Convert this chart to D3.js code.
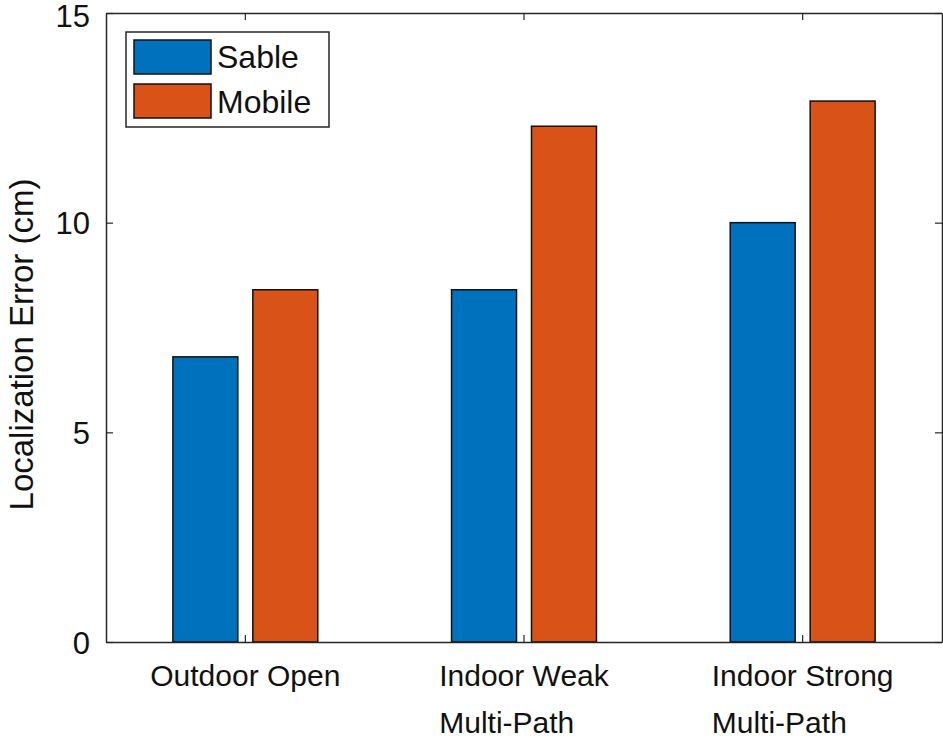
<!DOCTYPE html>
<html>
<head>
<meta charset="utf-8">
<script src="https://cdn.jsdelivr.net/npm/d3@7"></script>
<style>
  html, body { margin: 0; padding: 0; background: #fff; }
  svg { display: block; font-family: "Liberation Sans", Arial, sans-serif; }
</style>
</head>
<body>
<svg id="chart" width="943" height="738"></svg>
<script>
const categories = ["Outdoor Open", "Indoor Weak\nMulti-Path", "Indoor Strong\nMulti-Path"];
const seriesNames = ["Sable", "Mobile"];
const sableValues = [6.8, 8.4, 10.0];
const mobileValues = [8.4, 12.3, 12.9];
const yTicks = [0, 5, 10, 15];
const colors = ["#0072BD", "#D95319"];

const seriesValues = [sableValues, mobileValues];
const W = 943, H = 738;
const margin = {left: 106, top: 13, right: 1, bottom: 96};
const svg = d3.select("#chart");
const axisColor = "#262626";

const x0 = d3.scaleBand().domain(categories).range([margin.left, W - margin.right]).padding(0);
const groupW = x0.bandwidth() * 0.52;
const x1 = d3.scaleBand().domain(seriesNames).range([0, groupW]).paddingInner(0.1875).paddingOuter(0);
const y = d3.scaleLinear().domain([0, 15]).range([H - margin.bottom, margin.top]);

// bars
const data = [];
categories.forEach((c, i) => seriesNames.forEach((s, j) => data.push({c, s, j, v: seriesValues[j][i]})));
svg.append("g").selectAll("rect").data(data).join("rect")
  .attr("x", d => x0(d.c) + (x0.bandwidth() - groupW) / 2 + x1(d.s))
  .attr("y", d => y(d.v))
  .attr("width", x1.bandwidth())
  .attr("height", d => y(0) - y(d.v))
  .attr("fill", d => colors[d.j])
  .attr("stroke", "#111")
  .attr("stroke-width", 1.5);

// axes
const tickLen = 7;
const axLeft = d3.axisLeft(y).tickValues(yTicks).tickSizeInner(-tickLen).tickSizeOuter(0).tickFormat(d3.format("d")).tickPadding(16);
const axRight = d3.axisRight(y).tickValues(yTicks).tickSizeInner(-tickLen).tickSizeOuter(0).tickFormat("");
const axBottom = d3.axisBottom(x0).tickSizeInner(-tickLen).tickSizeOuter(0).tickFormat("");
const axTop = d3.axisTop(x0).tickSizeInner(-tickLen).tickSizeOuter(0).tickFormat("");

const gL = svg.append("g").attr("transform", `translate(${margin.left},0)`).call(axLeft);
const gR = svg.append("g").attr("transform", `translate(${W - margin.right},0)`).call(axRight);
const gB = svg.append("g").attr("transform", `translate(0,${H - margin.bottom})`).call(axBottom);
const gT = svg.append("g").attr("transform", `translate(0,${margin.top})`).call(axTop);
[gL, gR, gB, gT].forEach(g => {
  g.selectAll(".domain").attr("stroke", axisColor).attr("stroke-width", 1.5);
  g.selectAll(".tick line").attr("stroke", axisColor).attr("stroke-width", 1.2);
});
gL.selectAll(".tick text").attr("font-size", 31).attr("fill", "#111")
  .attr("font-family", "Liberation Sans, Arial, sans-serif")
  .attr("dy", "0.36em")
  .filter(d => d === 15).attr("dy", "0.42em");

// x labels (multi-line, lines left-aligned, block centered on category)
categories.forEach(c => {
  const lines = c.split("\n");
  const t = svg.append("text")
    .attr("font-size", 30)
    .attr("fill", "#111");
  const spans = lines.map((ln, k) => t.append("tspan").attr("y", 686 + k * 47).text(ln));
  const maxW = d3.max(spans, s => s.node().getComputedTextLength());
  const cx = x0(c) + x0.bandwidth() / 2;
  spans.forEach(s => s.attr("x", cx - maxW / 2));
});

// y label
svg.append("text")
  .attr("transform", `translate(33,${(margin.top + H - margin.bottom) / 2 + 17}) rotate(-90)`)
  .attr("text-anchor", "middle")
  .attr("font-size", 33)
  .attr("fill", "#111")
  .text("Localization Error (cm)");

// legend
const lg = svg.append("g");
lg.append("rect").attr("x", 126).attr("y", 32).attr("width", 203).attr("height", 95)
  .attr("fill", "#fff").attr("stroke", axisColor).attr("stroke-width", 1.5);
seriesNames.forEach((s, j) => {
  lg.append("rect").attr("x", 134).attr("y", 40 + j * 44).attr("width", 77).attr("height", 34)
    .attr("fill", colors[j]).attr("stroke", "#111").attr("stroke-width", 1.5);
  lg.append("text").attr("x", 217).attr("y", 68 + j * 45).attr("font-size", 32).attr("fill", "#111").text(s);
});
</script>
</body>
</html>
